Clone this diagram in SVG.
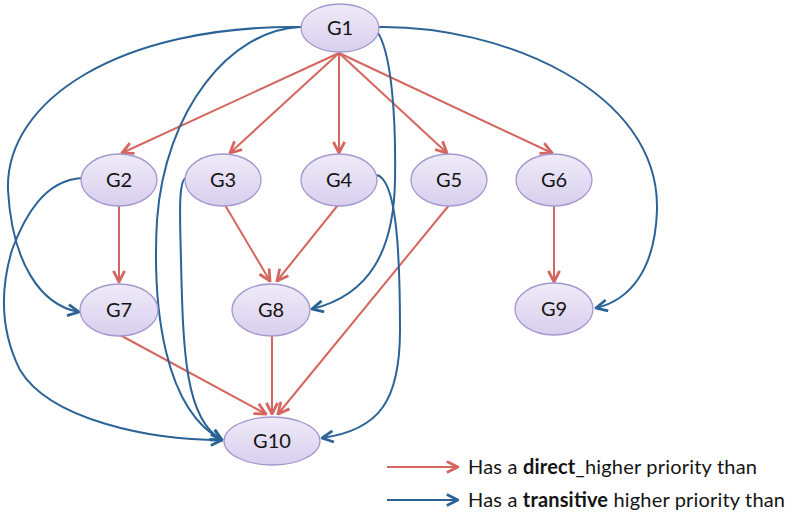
<svg xmlns="http://www.w3.org/2000/svg" width="793" height="519" viewBox="0 0 793 519">
<style>
.node ellipse{fill:url(#ng);stroke:#a597cf;stroke-width:1.3}
.node text{font-family:Lato,"Open Sans","Liberation Sans",sans-serif;font-size:20px;fill:#141414;text-anchor:middle}
.red{stroke:#d5665f;stroke-width:2;fill:none;marker-end:url(#ar)}
.blue{stroke:#2b6397;stroke-width:2;fill:none;marker-end:url(#ab)}
.leg{font-family:Lato,"Open Sans","Liberation Sans",sans-serif;font-size:20px;fill:#141414}
</style>
<defs>
<linearGradient id="ng" x1="0" y1="0" x2="0" y2="1">
<stop offset="0" stop-color="#efebf8"/>
<stop offset="1" stop-color="#d8cfee"/>
</linearGradient>
<marker id="ar" markerUnits="userSpaceOnUse" markerWidth="14" markerHeight="14" refX="9" refY="5" orient="auto" viewBox="0 0 10 10">
<path d="M1,1 L9,5 L1,9" fill="none" stroke="#d5665f" stroke-width="2"/>
</marker>
<marker id="ab" markerUnits="userSpaceOnUse" markerWidth="14" markerHeight="14" refX="9" refY="5" orient="auto" viewBox="0 0 10 10">
<path d="M1,1 L9,5 L1,9" fill="none" stroke="#2b6397" stroke-width="2"/>
</marker>
</defs>
<rect width="793" height="519" fill="#ffffff"/>
<g id="connectors">
<path class="red" d="M339 53 L122 153"/>
<path class="red" d="M339 53 L230 153"/>
<path class="red" d="M339 53 L339 153"/>
<path class="red" d="M339 53 L447 153"/>
<path class="red" d="M339 53 L552 153"/>
<path class="red" d="M119 206 L119 282"/>
<path class="red" d="M225 205 L270 281"/>
<path class="red" d="M338 205 L277 281"/>
<path class="red" d="M450 204 L278 414"/>
<path class="red" d="M554 206 L554 282"/>
<path class="red" d="M120 335 L266 414"/>
<path class="red" d="M272 335 L272 414"/>
<path class="blue" d="M301 27 C120 25, 5 100, 8 190 C12 262, 40 305, 79 312"/>
<path class="blue" d="M82 178 C45 180, 25 215, 12 250 C0 290, 0 330, 20 370 C50 420, 150 440, 222 440"/>
<path class="blue" d="M300 27 C230 30, 165 110, 157 220 C152 310, 165 410, 222 440"/>
<path class="blue" d="M186 178 C178 180, 180 220, 181 260 C183 350, 185 420, 222 440"/>
<path class="blue" d="M376 30 C392 50, 396 120, 395 180 C394 250, 370 295, 312 309"/>
<path class="blue" d="M377 175 C395 180, 400 240, 400 330 C400 400, 380 430, 322 438"/>
<path class="blue" d="M378 27 C500 25, 660 90, 657 210 C655 270, 630 300, 596 308"/>
<path class="red" d="M387 467 L458 467"/>
<path class="blue" d="M387 500 L458 500"/>
</g>
<g id="G1" class="node"><ellipse cx="340" cy="28" rx="39" ry="24"/><text x="340" y="35">G1</text></g>
<g id="G2" class="node"><ellipse cx="119" cy="180" rx="38" ry="26"/><text x="119" y="187">G2</text></g>
<g id="G3" class="node"><ellipse cx="223" cy="180" rx="38" ry="26"/><text x="223" y="187">G3</text></g>
<g id="G4" class="node"><ellipse cx="339" cy="180" rx="38" ry="26"/><text x="339" y="187">G4</text></g>
<g id="G5" class="node"><ellipse cx="449" cy="180" rx="38" ry="26"/><text x="449" y="187">G5</text></g>
<g id="G6" class="node"><ellipse cx="554" cy="180" rx="38" ry="26"/><text x="554" y="187">G6</text></g>
<g id="G7" class="node"><ellipse cx="119" cy="310" rx="39" ry="26"/><text x="119" y="317">G7</text></g>
<g id="G8" class="node"><ellipse cx="271" cy="310" rx="39" ry="26"/><text x="271" y="317">G8</text></g>
<g id="G9" class="node"><ellipse cx="554" cy="309" rx="39" ry="26"/><text x="554" y="316">G9</text></g>
<g id="G10" class="node"><ellipse cx="272" cy="441" rx="48" ry="24"/><text x="272" y="448">G10</text></g>
<g id="legend">
<text class="leg" x="468" y="474" textLength="289" lengthAdjust="spacing">Has a <tspan font-weight="bold">direct</tspan>_higher priority than</text>
<text class="leg" x="468" y="507" textLength="317" lengthAdjust="spacing">Has a <tspan font-weight="bold">transitive</tspan> higher priority than</text>
</g>
</svg>
